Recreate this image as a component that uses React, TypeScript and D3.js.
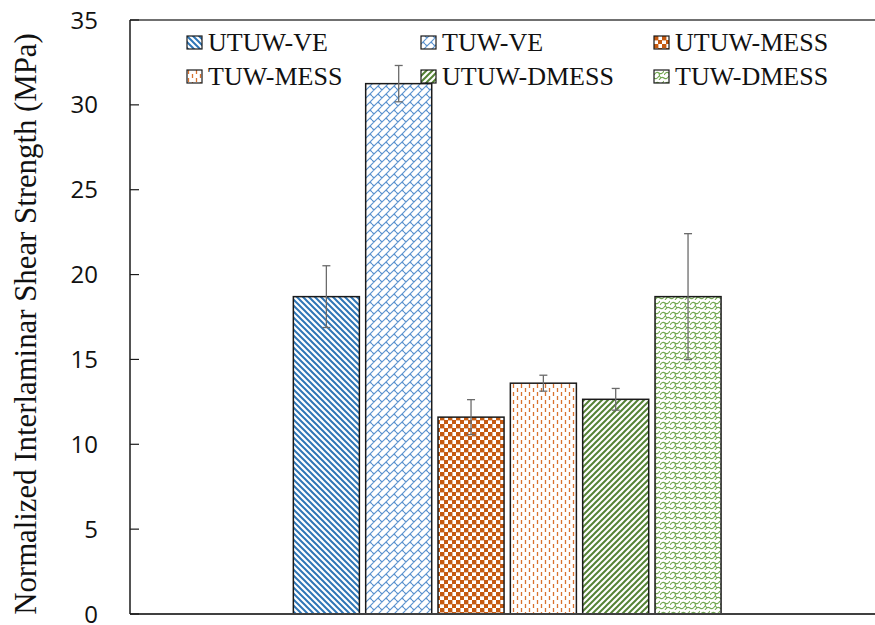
import React from "react";
import * as d3 from "d3";

// Series (one bar each), mean strength and error half-width in MPa
const seriesNames = ["UTUW-VE", "TUW-VE", "UTUW-MESS", "TUW-MESS", "UTUW-DMESS", "TUW-DMESS"];
const strengthMean = [18.7, 31.25, 11.6, 13.6, 12.65, 18.7];
const strengthErr = [1.82, 1.07, 1.03, 0.47, 0.64, 3.71];
const yTicks = [0, 5, 10, 15, 20, 25, 30, 35];
const patternIds = ["pBlueStripe", "pBlueBrick", "pOrangeChecker", "pOrangeDash", "pGreenStripe", "pGreenShingle"];
// Legend laid out in two rows of three
const legendRows = [
  [0, 1, 2],
  [3, 4, 5],
];

const W = 875;
const H = 625;
const plot = { left: 130, right: 884, top: 20, bottom: 614 };

const y = d3.scaleLinear().domain([0, 35]).range([plot.bottom, plot.top]);
const x = d3
  .scaleBand<string>()
  .domain(seriesNames)
  .range([290.2, 724.2])
  .paddingInner(0.087)
  .paddingOuter(0.0435);

const serif = "'Liberation Serif', 'Times New Roman', serif";
const sans = "'Open Sans', 'Noto Sans', sans-serif";

function Patterns() {
  return (
    <defs>
      {/* wide downward diagonal stripes, blue */}
      <pattern id="pBlueStripe" patternUnits="userSpaceOnUse" width={6} height={6}>
        <rect width={6} height={6} fill="#fff" />
        <path d="M-3,3 L3,9 M0,0 L6,6 M3,-3 L9,3" stroke="#2E75B6" strokeWidth={2} />
      </pattern>
      {/* diagonal brick, light blue */}
      <pattern id="pBlueBrick" patternUnits="userSpaceOnUse" width={8} height={8}>
        <rect width={8} height={8} fill="#fff" />
        <path
          d="M0,8 L8,0 M-1,1 L1,-1 M7,9 L9,7 M2,6 L4,8 M4,0 L6,2"
          stroke="#5B93CF"
          strokeWidth={1.2}
          fill="none"
        />
      </pattern>
      {/* checkerboard, dark orange */}
      <pattern id="pOrangeChecker" patternUnits="userSpaceOnUse" width={8} height={8}>
        <rect width={8} height={8} fill="#fff" />
        <rect x={0} y={0} width={4.4} height={4.4} fill="#C55A11" />
        <rect x={4} y={4} width={4.4} height={4.4} fill="#C55A11" />
      </pattern>
      {/* dashed vertical, orange */}
      <pattern id="pOrangeDash" patternUnits="userSpaceOnUse" width={8} height={8}>
        <rect width={8} height={8} fill="#fff" />
        <path d="M1.5,0 L1.5,4 M5.5,4 L5.5,8" stroke="#D9732F" strokeWidth={1.3} />
      </pattern>
      {/* wide upward diagonal stripes, green */}
      <pattern id="pGreenStripe" patternUnits="userSpaceOnUse" width={6} height={6}>
        <rect width={6} height={6} fill="#fff" />
        <path d="M-3,3 L3,-3 M0,6 L6,0 M3,9 L9,3" stroke="#548235" strokeWidth={2} />
      </pattern>
      {/* shingle, light green */}
      <pattern id="pGreenShingle" patternUnits="userSpaceOnUse" width={10} height={10}>
        <rect width={10} height={10} fill="#fff" />
        <path
          d="M0,5 Q2.5,1 5,3 Q7.5,5 10,1 M-5,10 Q-2.5,6 0,8 Q2.5,10 5,6 M5,10 Q7.5,6 10,8 Q12.5,10 15,6 M5,3 Q5,6 7,8"
          stroke="#72A850"
          strokeWidth={1.1}
          fill="none"
        />
      </pattern>
    </defs>
  );
}

export default function App() {
  const bw = x.bandwidth();
  const legendCols = [187, 421, 654];
  const legendY = [36, 70];

  return (
    <svg
      width={W}
      height={H}
      viewBox={`0 0 ${W} ${H}`}
      style={{ position: "fixed", left: 0, top: 0, background: "#fff" }}
    >
      <Patterns />
      <rect width={W} height={H} fill="#fff" />

      {/* bars */}
      {seriesNames.map((s, i) => (
        <rect
          key={s}
          x={x(s)}
          y={y(strengthMean[i])}
          width={bw}
          height={y(0) - y(strengthMean[i])}
          fill={`url(#${patternIds[i]})`}
          stroke="#1a1a1a"
          strokeWidth={1.5}
        />
      ))}

      {/* error bars */}
      {seriesNames.map((s, i) => {
        const cx = (x(s) as number) + bw / 2;
        const hi = y(strengthMean[i] + strengthErr[i]);
        const lo = y(strengthMean[i] - strengthErr[i]);
        return (
          <g key={`e-${s}`} stroke="#6b6b6b" strokeWidth={1.3}>
            <line x1={cx} x2={cx} y1={hi} y2={lo} />
            <line x1={cx - 4} x2={cx + 4} y1={hi} y2={hi} />
            <line x1={cx - 4} x2={cx + 4} y1={lo} y2={lo} />
          </g>
        );
      })}

      {/* frame */}
      <line x1={plot.left} x2={W} y1={plot.top} y2={plot.top} stroke="#404040" strokeWidth={1.6} />
      <line x1={plot.left} x2={W} y1={plot.bottom} y2={plot.bottom} stroke="#404040" strokeWidth={1.8} />
      <line x1={plot.left} x2={plot.left} y1={plot.top} y2={plot.bottom} stroke="#1a1a1a" strokeWidth={1.5} />

      {/* y ticks (inward) and labels */}
      {yTicks.map((t) => (
        <g key={t}>
          <line x1={plot.left} x2={plot.left + 9} y1={y(t)} y2={y(t)} stroke="#1a1a1a" strokeWidth={1.2} />
          <text
            x={98}
            y={y(t)}
            dy="0.36em"
            textAnchor="end"
            fontFamily={sans}
            fontSize={24}
            fill="#111"
          >
            {t}
          </text>
        </g>
      ))}

      {/* y axis title */}
      <text
        transform={`translate(36,324) rotate(-90)`}
        textAnchor="middle"
        fontFamily={serif}
        fontSize={30.8}
        fill="#111"
      >
        Normalized Interlaminar Shear Strength (MPa)
      </text>

      {/* legend */}
      {legendRows.map((row, r) =>
        row.map((si, c) => (
          <g key={`l-${si}`} transform={`translate(${legendCols[c]},${legendY[r]})`}>
            <rect
              width={15}
              height={13}
              fill={`url(#${patternIds[si]})`}
              stroke="#1a1a1a"
              strokeWidth={1.2}
            />
            <text x={21} y={15} fontFamily={serif} fontSize={26} fill="#111">
              {seriesNames[si]}
            </text>
          </g>
        ))
      )}
    </svg>
  );
}
